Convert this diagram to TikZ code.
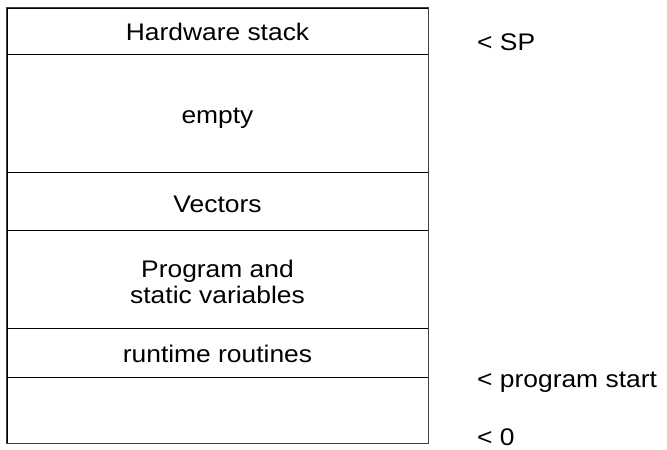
\documentclass[tikz,border=0pt]{standalone}
\usepackage{fontspec}
\setmainfont{Liberation Sans}
\newfontfamily\widesans[FakeStretch=1.1]{Liberation Sans}
\begin{document}
\begin{tikzpicture}[x=1pt,y=-1pt,
  cell/.style={draw=black,line width=1pt,minimum width=421pt,inner sep=0pt},
  txt/.style={anchor=base,inner sep=0pt,align=center,font=\widesans\fontsize{24}{26}\selectfont},
  lbl/.style={anchor=base west,inner sep=0pt,font=\widesans\fontsize{24}{26}\selectfont}]
\useasboundingbox (0,0) rectangle (667,450);
\node[cell,minimum height=46pt] (hw) at (217.5,31) {};
\node[cell,minimum height=118pt] (empty) at (217.5,113) {};
\node[cell,minimum height=58pt] (vec) at (217.5,201) {};
\node[cell,minimum height=98pt] (prog) at (217.5,279) {};
\node[cell,minimum height=49pt] (rt) at (217.5,352.5) {};
\node[cell,minimum height=66pt] (bot) at (217.5,410) {};
\draw[line width=1.3pt,draw=black!75] (hw.north west) rectangle (bot.south east);
\node[txt] (thw) at (217.5,40) {Hardware stack};
\node[txt] (tempty) at (217.5,123) {empty};
\node[txt] (tvec) at (217.5,212) {Vectors};
\node[txt] (tprog) at (217.5,303) {Program and\\static variables};
\node[txt] (trt) at (217.5,362) {runtime routines};
\node[lbl] (sp) at (477,50) {< SP};
\node[lbl] (ps) at (477,387) {< program start};
\node[lbl] (zero) at (477,445) {< 0};
\end{tikzpicture}
\end{document}
